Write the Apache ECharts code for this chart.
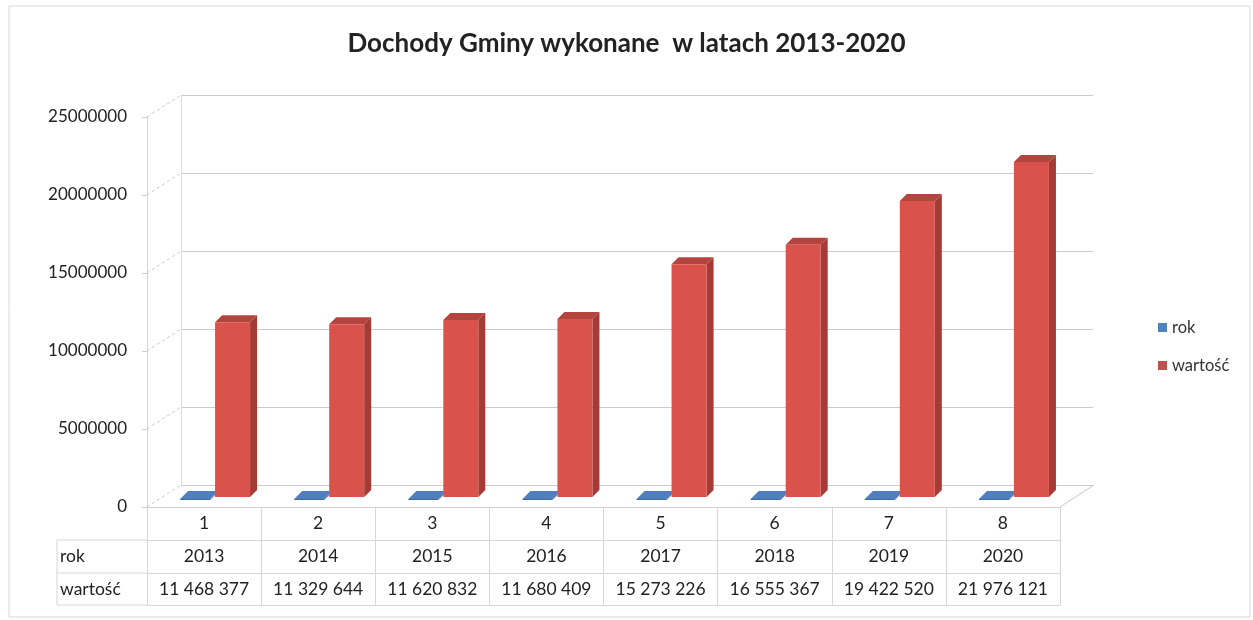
<!DOCTYPE html>
<html>
<head>
<meta charset="utf-8">
<script src="https://cdn.jsdelivr.net/npm/echarts@6/dist/echarts.min.js"></script>
<style>
html, body { margin: 0; padding: 0; background: #fff; }
#chart { width: 1253px; height: 620px; }
</style>
</head>
<body>
<div id="chart"></div>
<script>
var categories = ['1', '2', '3', '4', '5', '6', '7', '8'];
var rokValues = [2013, 2014, 2015, 2016, 2017, 2018, 2019, 2020];
var wartoscValues = [11468377, 11329644, 11620832, 11680409, 15273226, 16555367, 19422520, 21976121];
var yTicks = [0, 5000000, 10000000, 15000000, 20000000, 25000000];

var FONT = 'Lato';
var DEPTH_X = 34, DEPTH_Y = 22;

function fmt(n) {
	return String(n).replace(/\B(?=(\d{3})+(?!\d))/g, ' ');
}

// box with front, side and top faces
function bar3d(o) {
	return function(params, api) {
		var base = api.coord([api.value(0), 0]);
		var top = api.coord([api.value(0), api.value(1)]);
		var x0 = base[0] + o.dx, w = o.width, d = o.depth;
		var yb = base[1] - o.lift;
		var yt = Math.min(top[1] - o.lift, yb - o.minH);
		return {
			type : 'group',
			children : [
				{ type : 'polygon', shape : { points : [[x0 + w, yb], [x0 + w + d, yb - d], [x0 + w + d, yt - d], [x0 + w, yt]] }, style : { fill : o.side } },
				{ type : 'polygon', shape : { points : [[x0, yt], [x0 + d, yt - d], [x0 + w + d, yt - d], [x0 + w, yt]] }, style : { fill : o.top } },
				{ type : 'rect', shape : { x : x0, y : yt, width : w, height : yb - yt }, style : { fill : o.front } }
			]
		};
	};
}

// dashed lines from the front axis to the back wall
function connectors(params, api) {
	var cs = params.coordSys;
	var p = api.coord([0, api.value(1)]);
	var kids = [{ type : 'line', shape : { x1 : cs.x, y1 : p[1], x2 : cs.x + DEPTH_X, y2 : p[1] - DEPTH_Y }, style : { stroke : '#c8c8c8', lineDash : [3, 3], lineWidth : 1 } }];
	if (api.value(1) === 0) {
		kids.push({ type : 'line', shape : { x1 : cs.x + cs.width, y1 : p[1], x2 : cs.x + cs.width + DEPTH_X, y2 : p[1] - DEPTH_Y }, style : { stroke : '#c8c8c8', lineWidth : 1 } });
	}
	return { type : 'group', children : kids };
}

var tableLine = { lineStyle : { color : '#d6d6d6', width : 1 } };

var myChart = echarts.init(document.getElementById('chart'));
var option = {
	backgroundColor : '#fff',
	animation : false,
	title : {
		text : 'Dochody Gminy wykonane  w latach 2013-2020',
		left : 'center',
		top : 31,
		padding : 0,
		textStyle : { fontFamily : FONT, fontWeight : 'bold', fontSize : 26, color : '#222' }
	},
	legend : {
		data : ['rok', 'wartość'],
		orient : 'vertical',
		left : 1153,
		top : 314,
		itemWidth : 9,
		itemHeight : 9,
		itemGap : 21,
		icon : 'rect',
		textStyle : { fontFamily : FONT, fontSize : 16.5, color : '#333' }
	},
	grid : [
		{ left : 147, right : 193, top : 117, bottom : 113 },
		{ left : 181, right : 160, top : 95, bottom : 135 },
		{ left : 147, right : 193, top : 116, bottom : 123 }
	],
	xAxis : [
		{
			type : 'category', gridIndex : 0, data : categories,
			axisLine : { lineStyle : { color : '#cfcfcf' } },
			axisTick : { show : true, interval : 0, inside : false, length : 98, lineStyle : { color : '#d6d6d6' } },
			axisLabel : {
				interval : 0,
				hideOverlap : false,
				margin : 0,
				lineHeight : 33,
				align : 'center',
				fontFamily : FONT, fontSize : 17.5, color : '#222',
				formatter : function(v, i) {
					return v + '\n' + rokValues[i] + '\n' + fmt(wartoscValues[i]);
				}
			}
		},
		{ type : 'category', gridIndex : 0, data : categories, position : 'bottom', offset : 33, axisLine : tableLine, axisTick : { show : false }, axisLabel : { show : false } },
		{ type : 'category', gridIndex : 0, data : categories, position : 'bottom', offset : 66, axisLine : tableLine, axisTick : { show : false }, axisLabel : { show : false } },
		{ type : 'category', gridIndex : 0, data : categories, position : 'bottom', offset : 98, axisLine : tableLine, axisTick : { show : false }, axisLabel : { show : false } },
		{ type : 'category', gridIndex : 1, data : categories, show : false },
		{ type : 'category', gridIndex : 2, data : categories, show : false }
	],
	yAxis : [
		{
			type : 'value', gridIndex : 0, min : 0, max : 25000000, interval : 5000000,
			axisLine : { show : true, lineStyle : { color : '#d4d4d4' } },
			axisTick : { show : true, length : 5, lineStyle : { color : '#cfcfcf' } },
			splitLine : { show : false },
			axisLabel : { margin : 20, fontFamily : FONT, fontSize : 17, color : '#222', formatter : function(v) { return String(v); } }
		},
		{
			type : 'value', gridIndex : 1, min : 0, max : 25000000, interval : 5000000,
			axisLine : { show : true, lineStyle : { color : '#dedede' } },
			axisTick : { show : false },
			axisLabel : { show : false },
			splitLine : { show : true, lineStyle : { color : '#cbcbcb' } }
		},
		{ type : 'value', gridIndex : 2, min : 0, max : 25000000, interval : 5000000, show : false, splitLine : { show : false } }
	],
	series : [
		{
			name : 'connectors', type : 'custom', xAxisIndex : 0, yAxisIndex : 0, silent : true,
			data : yTicks.map(function(v) { return [0, v]; }),
			renderItem : connectors
		},
		{
			name : 'rok', type : 'custom', xAxisIndex : 5, yAxisIndex : 2,
			itemStyle : { color : '#4f81bd' },
			data : rokValues.map(function(v, i) { return [i, v]; }),
			renderItem : bar3d({ dx : -24, width : 30, lift : -3, depth : 8, minH : 1, front : '#3f6aa3', side : '#365c8d', top : '#4f7fbf' })
		},
		{
			name : 'wartość', type : 'custom', xAxisIndex : 5, yAxisIndex : 2,
			itemStyle : { color : '#c0504d' },
			data : wartoscValues.map(function(v, i) { return [i, v]; }),
			renderItem : bar3d({ dx : 11, width : 35, lift : 0, depth : 7, minH : 1, front : '#d9534c', side : '#a63a34', top : '#b4443e' })
		}
	],
	graphic : [
		{ type : 'rect', shape : { x : 9, y : 6, width : 1241, height : 611 }, style : { fill : 'none', stroke : '#d8d8d8', lineWidth : 1 }, silent : true },
		{ type : 'line', shape : { x1 : 57, y1 : 540, x2 : 147, y2 : 540 }, style : { stroke : '#d6d6d6' } },
		{ type : 'line', shape : { x1 : 57, y1 : 573, x2 : 147, y2 : 573 }, style : { stroke : '#d6d6d6' } },
		{ type : 'line', shape : { x1 : 57, y1 : 605, x2 : 147, y2 : 605 }, style : { stroke : '#d6d6d6' } },
		{ type : 'line', shape : { x1 : 57, y1 : 540, x2 : 57, y2 : 605 }, style : { stroke : '#d6d6d6' } },
		{ type : 'text', x : 60, y : 556, style : { text : 'rok', fontFamily : FONT, fontSize : 17.5, fill : '#222', textVerticalAlign : 'middle' } },
		{ type : 'text', x : 60, y : 589, style : { text : 'wartość', fontFamily : FONT, fontSize : 17.5, fill : '#222', textVerticalAlign : 'middle' } }
	]
};
myChart.setOption(option);
</script>
</body>
</html>
